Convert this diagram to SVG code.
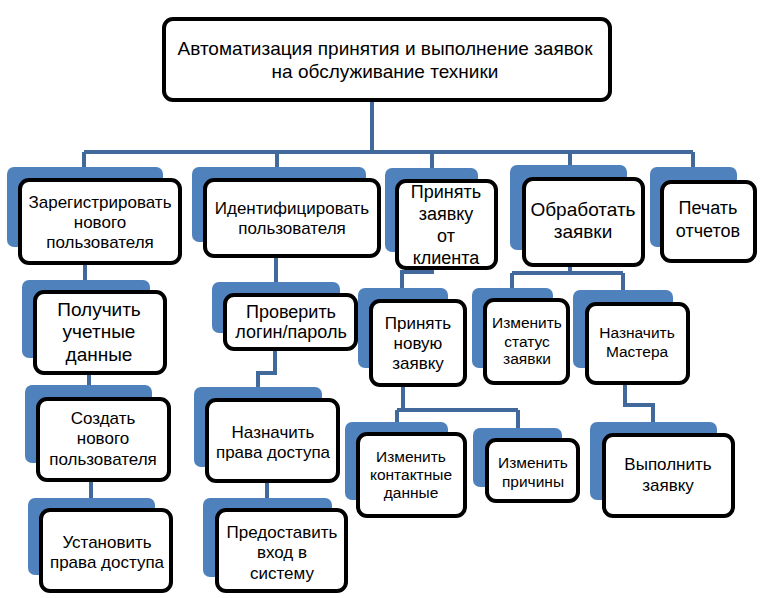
<svg xmlns="http://www.w3.org/2000/svg" width="760" height="598" viewBox="0 0 760 598">
<defs>
<style>
.sh{fill:#4f81bd;}
.bx{fill:#ffffff;stroke:#000000;stroke-width:4;}
.cn{fill:none;stroke:#41699c;stroke-width:4;}
text{font-family:"Liberation Sans","DejaVu Sans",sans-serif;fill:#000000;text-anchor:middle;}
.t19{font-size:19px;}
.t18{font-size:18px;}
.t17{font-size:17px;}
.t15{font-size:15.5px;}
</style>
</defs>
<rect width="760" height="598" fill="#ffffff"/>
<g id="connectors">
<path class="cn" d="M372,102 V152 M84,152 H693 M84,152 V167 M277,152 V167 M432,152 V168 M570,152 V165 M693,152 V167"/>
<path class="cn" d="M85,265 V280 M89,375 V385 M91,482 V498"/>
<path class="cn" d="M276,258 V282 M275,351 V373 H258 V387 M267,483 V498"/>
<path class="cn" d="M432,270 V272 H402 V288"/>
<path class="cn" d="M570,267 V273 M512,273 H623 M512,273 V288 M623,273 V290"/>
<path class="cn" d="M403,387 V410 M397,410 H518 M397,410 V422 M518,410 V428"/>
<path class="cn" d="M625,385 V405 H653 V422"/>
</g>
<g id="top">
<rect class="bx" x="164" y="19" width="446" height="81" rx="9"/>
<text class="t19" x="385" y="55">Автоматизация принятия и выполнение заявок</text>
<text class="t19" x="385" y="78">на обслуживание техники</text>
</g>
<g id="n1">
<rect class="sh" x="7" y="167" width="156" height="80" rx="7"/>
<rect class="bx" x="20" y="180" width="160" height="83" rx="9"/>
<text class="t17" x="100" y="208">Зарегистрировать</text>
<text class="t17" x="100" y="228">нового</text>
<text class="t17" x="100" y="248">пользователя</text>
</g>
<g id="n2">
<rect class="sh" x="192" y="167" width="174" height="75" rx="7"/>
<rect class="bx" x="205" y="180" width="174" height="76" rx="9"/>
<text class="t17" x="292" y="214">Идентифицировать</text>
<text class="t17" x="292" y="234">пользователя</text>
</g>
<g id="n3">
<rect class="sh" x="385" y="168" width="93" height="84" rx="7"/>
<rect class="bx" x="397" y="181" width="99" height="87" rx="9"/>
<text class="t18" x="446" y="198">Принять</text>
<text class="t18" x="446" y="220">заявку</text>
<text class="t18" x="446" y="242">от</text>
<text class="t18" x="446" y="264">клиента</text>
</g>
<g id="n4">
<rect class="sh" x="510" y="165" width="117" height="85" rx="7"/>
<rect class="bx" x="524" y="179" width="119" height="86" rx="9"/>
<text class="t19" x="583" y="216">Обработать</text>
<text class="t19" x="583" y="238">заявки</text>
</g>
<g id="n5">
<rect class="sh" x="650" y="167" width="87" height="80" rx="7"/>
<rect class="bx" x="662" y="182" width="93" height="79" rx="9"/>
<text class="t18" x="708" y="214">Печать</text>
<text class="t18" x="708" y="237">отчетов</text>
</g>
<g id="n1a">
<rect class="sh" x="22" y="280" width="128" height="78" rx="7"/>
<rect class="bx" x="35" y="292" width="130" height="81" rx="9"/>
<text class="t19" x="99" y="316">Получить</text>
<text class="t19" x="99" y="338">учетные</text>
<text class="t19" x="99" y="361">данные</text>
</g>
<g id="n1b">
<rect class="sh" x="25" y="385" width="127" height="78" rx="7"/>
<rect class="bx" x="38" y="399" width="131" height="81" rx="9"/>
<text class="t17" x="103" y="424">Создать</text>
<text class="t17" x="103" y="444">нового</text>
<text class="t17" x="103" y="465">пользователя</text>
</g>
<g id="n1c">
<rect class="sh" x="28" y="498" width="127" height="77" rx="7"/>
<rect class="bx" x="41" y="510" width="130" height="81" rx="9"/>
<text class="t17" x="107" y="548">Установить</text>
<text class="t17" x="107" y="568">права доступа</text>
</g>
<g id="n2a">
<rect class="sh" x="212" y="282" width="128" height="51" rx="7"/>
<rect class="bx" x="225" y="295" width="131" height="54" rx="9"/>
<text class="t18" x="291" y="318">Проверить</text>
<text class="t18" x="291" y="338">логин/пароль</text>
</g>
<g id="n2b">
<rect class="sh" x="194" y="387" width="128" height="80" rx="7"/>
<rect class="bx" x="207" y="400" width="131" height="81" rx="9"/>
<text class="t17" x="273" y="438">Назначить</text>
<text class="t17" x="273" y="458">права доступа</text>
</g>
<g id="n2c">
<rect class="sh" x="203" y="498" width="129" height="79" rx="7"/>
<rect class="bx" x="217" y="510" width="129" height="81" rx="9"/>
<text class="t17" x="282" y="538">Предоставить</text>
<text class="t17" x="282" y="558">вход в</text>
<text class="t17" x="282" y="579">систему</text>
</g>
<g id="n3a">
<rect class="sh" x="358" y="288" width="90" height="80" rx="7"/>
<rect class="bx" x="371" y="301" width="94" height="84" rx="9"/>
<text class="t17" x="418" y="329">Принять</text>
<text class="t17" x="418" y="349">новую</text>
<text class="t17" x="418" y="369">заявку</text>
</g>
<g id="n3a1">
<rect class="sh" x="345" y="422" width="103" height="78" rx="7"/>
<rect class="bx" x="358" y="434" width="107" height="82" rx="9"/>
<text class="t15" x="411" y="462">Изменить</text>
<text class="t15" x="411" y="480">контактные</text>
<text class="t15" x="411" y="498">данные</text>
</g>
<g id="n3a2">
<rect class="sh" x="473" y="428" width="89" height="59" rx="7"/>
<rect class="bx" x="487" y="440" width="91" height="61" rx="9"/>
<text class="t15" x="533" y="468">Изменить</text>
<text class="t15" x="533" y="487">причины</text>
</g>
<g id="n4a">
<rect class="sh" x="472" y="288" width="81" height="80" rx="7"/>
<rect class="bx" x="485" y="300" width="83" height="83" rx="9"/>
<text class="t15" x="527" y="328">Изменить</text>
<text class="t15" x="527" y="347">статус</text>
<text class="t15" x="527" y="364">заявки</text>
</g>
<g id="n4b">
<rect class="sh" x="573" y="290" width="100" height="78" rx="7"/>
<rect class="bx" x="587" y="304" width="101" height="79" rx="9"/>
<text class="t15" x="637" y="338">Назначить</text>
<text class="t15" x="637" y="357">Мастера</text>
</g>
<g id="n4b1">
<rect class="sh" x="590" y="422" width="127" height="78" rx="7"/>
<rect class="bx" x="604" y="435" width="129" height="81" rx="9"/>
<text class="t17" x="668" y="470">Выполнить</text>
<text class="t17" x="668" y="491">заявку</text>
</g>
</svg>
